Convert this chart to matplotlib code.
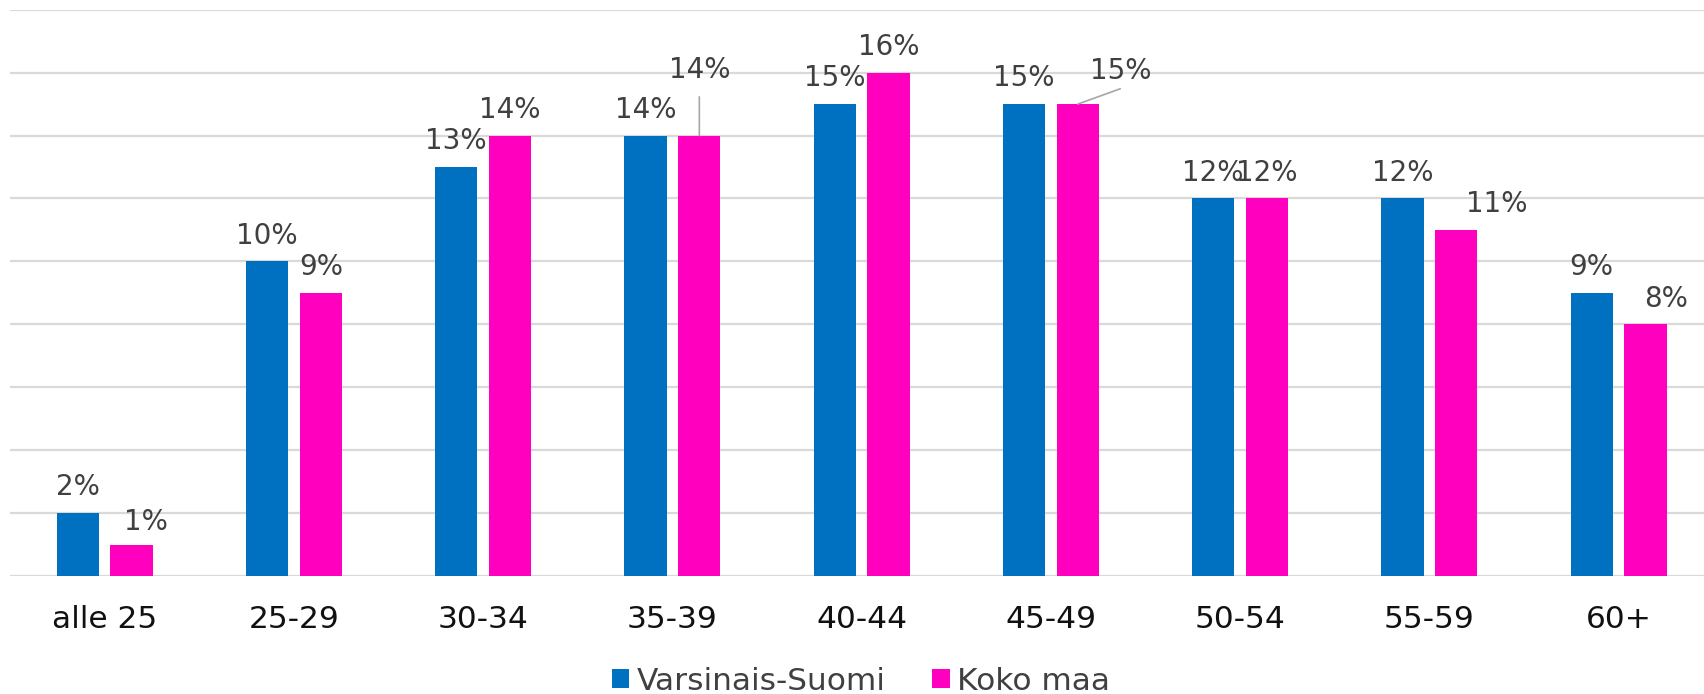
import matplotlib
matplotlib.use("Agg")
import matplotlib.pyplot as plt
from matplotlib.patches import Patch
import numpy as np

# ---- data ----
categories = ["alle 25", "25-29", "30-34", "35-39", "40-44", "45-49", "50-54", "55-59", "60+"]
varsinais_suomi = [2, 10, 13, 14, 15, 15, 12, 12, 9]
koko_maa = [1, 9, 14, 14, 16, 15, 12, 11, 8]
series_names = ["Varsinais-Suomi", "Koko maa"]

# ---- style ----
BLUE = "#0070C0"
PINK = "#FF00BF"
GRID = "#D9D9D9"
LABEL_COLOR = "#404040"
PX = 72.0 / 100.0  # points per pixel at dpi 100

# label adjustments (in pixels) for the pink series: index -> (dx, dy above bar top)
pink_label_adjust = {0: (14, 15), 3: (0, 57.7), 5: (43, 25.3), 7: (40, 17.7), 8: (20, 17.7)}
# leader lines: index -> (dx_px, dy_px) of line end relative to bar top
pink_leaders = {3: (0, 38.7), 5: (42.4, 15.3)}

W, H = 1704, 694
fig = plt.figure(figsize=(W / 100, H / 100), dpi=100)
left_px, base_px, top_px = 10, 576, 9.7
ax = fig.add_axes([left_px / W, 1 - base_px / H, (W - left_px) / W, (base_px - top_px) / H])

x = np.arange(len(categories))
bw = 0.2235
off = 0.1425
ax.bar(x - off, varsinais_suomi, width=bw, color=BLUE, zorder=2)
ax.bar(x + off, koko_maa, width=bw, color=PINK, zorder=2)

step_px = 189.25
ax.set_xlim(-0.5, -0.5 + (W - left_px) / step_px)
ax.set_ylim(0, 18)
ax.set_yticks(np.arange(0, 19, 2))
ax.yaxis.grid(True, color=GRID, linewidth=1.6, zorder=0)
ax.set_axisbelow(True)
for s in ax.spines.values():
    s.set_visible(False)
ax.tick_params(axis="y", length=0, labelleft=False)
ax.set_xticks(x)
ax.set_xticklabels(categories, fontsize=22.5, color="#111111")
ax.tick_params(axis="x", length=0, pad=21)

lab_fs = 20
for i, v in enumerate(varsinais_suomi):
    ax.annotate(f"{v}%", xy=(x[i] - off, v), xytext=(0, 17.7 * PX), textcoords="offset points",
                ha="center", va="baseline", fontsize=lab_fs, color=LABEL_COLOR, zorder=3)
for i, v in enumerate(koko_maa):
    dx, dy = pink_label_adjust.get(i, (0, 17.7))
    ax.annotate(f"{v}%", xy=(x[i] + off, v), xytext=(dx * PX, dy * PX), textcoords="offset points",
                ha="center", va="baseline", fontsize=lab_fs, color=LABEL_COLOR, zorder=3)
    if i in pink_leaders:
        lx, ly = pink_leaders[i]
        ax.annotate("", xy=(x[i] + off, v), xytext=(lx * PX, ly * PX), textcoords="offset points",
                    arrowprops=dict(arrowstyle="-", color="#A6A6A6", lw=1.2, shrinkA=0, shrinkB=0))

handles = [Patch(facecolor=BLUE, edgecolor="none"), Patch(facecolor=PINK, edgecolor="none")]
fig.legend(handles, series_names, loc="center", bbox_to_anchor=(861 / W, 1 - 681 / H), ncol=2,
           frameon=False, fontsize=22.5, handlelength=0.55, handleheight=0.55,
           handletextpad=0.25, columnspacing=1.5, labelcolor="#404040", borderaxespad=0, borderpad=0)

fig.savefig("out.png", dpi=100)
